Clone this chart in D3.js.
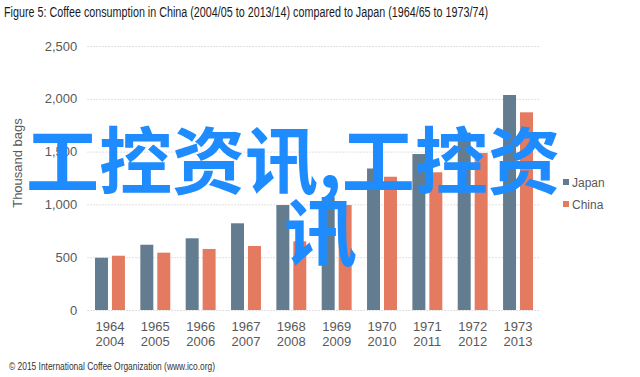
<!DOCTYPE html>
<html><head><meta charset="utf-8">
<script src="https://cdn.jsdelivr.net/npm/d3@7"></script>
<style>body{margin:0;background:#fff}svg{display:block}</style>
</head><body>
<script>
const years1 = ["1964","1965","1966","1967","1968","1969","1970","1971","1972","1973"];
const years2 = ["2004","2005","2006","2007","2008","2009","2010","2011","2012","2013"];
const japan = [495, 618, 679, 821, 994, 1070, 1340, 1477, 1680, 2036];
const china = [514, 543, 578, 606, 650, 994, 1262, 1304, 1487, 1872];
const seriesNames = ["Japan","China"];
const colors = ["#637c8f","#e47a60"];
const yTicks = [0,500,1000,1500,2000,2500];
const title = "Figure 5: Coffee consumption in China (2004/05 to 2013/14) compared to Japan (1964/65 to 1973/74)";
const footer = "\u00A9 2015 International Coffee Organization (www.ico.org)";
const yTitle = "Thousand bags";
const overlay1 = "工控资讯,工控资";
const overlay2 = "讯";

const W=640,H=377;
const svg=d3.select("body").append("svg").attr("width",W).attr("height",H);
const x=d3.scaleBand().domain(years1).range([87.3,540.7]).paddingInner(0.34).paddingOuter(0.17);
const xs=d3.scaleBand().domain(seriesNames).range([0,x.bandwidth()]).paddingInner(0.235);
const y=d3.scaleLinear().domain([0,2500]).range([310,46]);

svg.append("text").attr("x",4).attr("y",17).attr("font-family","'Liberation Sans Narrow', Arial").attr("font-size",14)
  .attr("fill","#1a1a1a").attr("textLength",484).attr("lengthAdjust","spacingAndGlyphs").text(title);

// grid
const yAxis=d3.axisLeft(y).tickValues(yTicks).tickFormat(d3.format(",")).tickSize(-(540.7-87.3)).tickPadding(10);
const ga=svg.append("g").attr("transform","translate(87.3,0)").call(yAxis);
ga.select(".domain").remove();
ga.selectAll(".tick line").attr("stroke","#d6d6d6").attr("stroke-dasharray","1.5,1.5").attr("stroke-width",1);
ga.selectAll(".tick text").attr("font-family","'Liberation Sans', Arial").attr("font-size",13).attr("fill","#595959");

svg.append("text").attr("transform","translate(22,163) rotate(-90)").attr("text-anchor","middle")
  .attr("font-family","'Liberation Sans', Arial").attr("font-size",13).attr("fill","#595959").text(yTitle);

// bars
const data=years1.map((yr,i)=>({yr,vals:[japan[i],china[i]]}));
const g=svg.selectAll("g.cat").data(data).join("g").attr("class","cat").attr("transform",d=>`translate(${x(d.yr)},0)`);
g.selectAll("rect").data(d=>d.vals.map((v,j)=>({v,s:seriesNames[j],c:colors[j]}))).join("rect")
  .attr("x",d=>xs(d.s)).attr("width",xs.bandwidth()).attr("y",d=>y(d.v)).attr("height",d=>y(0)-y(d.v)).attr("fill",d=>d.c);

// x labels
const xl=svg.append("g");
years1.forEach((yr,i)=>{
  const cx=x(yr)+x.bandwidth()/2;
  const t=xl.append("text").attr("text-anchor","middle").attr("font-family","'Liberation Sans', Arial").attr("font-size",13).attr("fill","#595959");
  t.append("tspan").attr("x",cx).attr("y",331).text(yr);
  t.append("tspan").attr("x",cx).attr("y",345.5).text(years2[i]);
});

// legend
const lg=svg.append("g");
seriesNames.forEach((s,i)=>{
  lg.append("rect").attr("x",563).attr("y",179+i*22).attr("width",6).attr("height",6).attr("fill",colors[i]);
  lg.append("text").attr("x",572).attr("y",187+i*22).attr("font-family","'Liberation Sans', Arial").attr("font-size",12).attr("fill","#595959").text(s);
});

svg.append("text").attr("x",9).attr("y",370).attr("font-family","'Liberation Sans', Arial").attr("font-size",10.5)
  .attr("fill","#333").attr("textLength",206).attr("lengthAdjust","spacingAndGlyphs").text(footer);

// overlay watermark text
svg.append("text").attr("x",26).attr("y",188).attr("font-family","'Noto Sans CJK SC'").attr("font-weight",700).attr("font-size",73).attr("fill","#1e8cff").text(overlay1);
svg.append("text").attr("x",284).attr("y",260).attr("font-family","'Noto Sans CJK SC'").attr("font-weight",700).attr("font-size",73).attr("fill","#1e8cff").text(overlay2);
</script>
</body></html>
